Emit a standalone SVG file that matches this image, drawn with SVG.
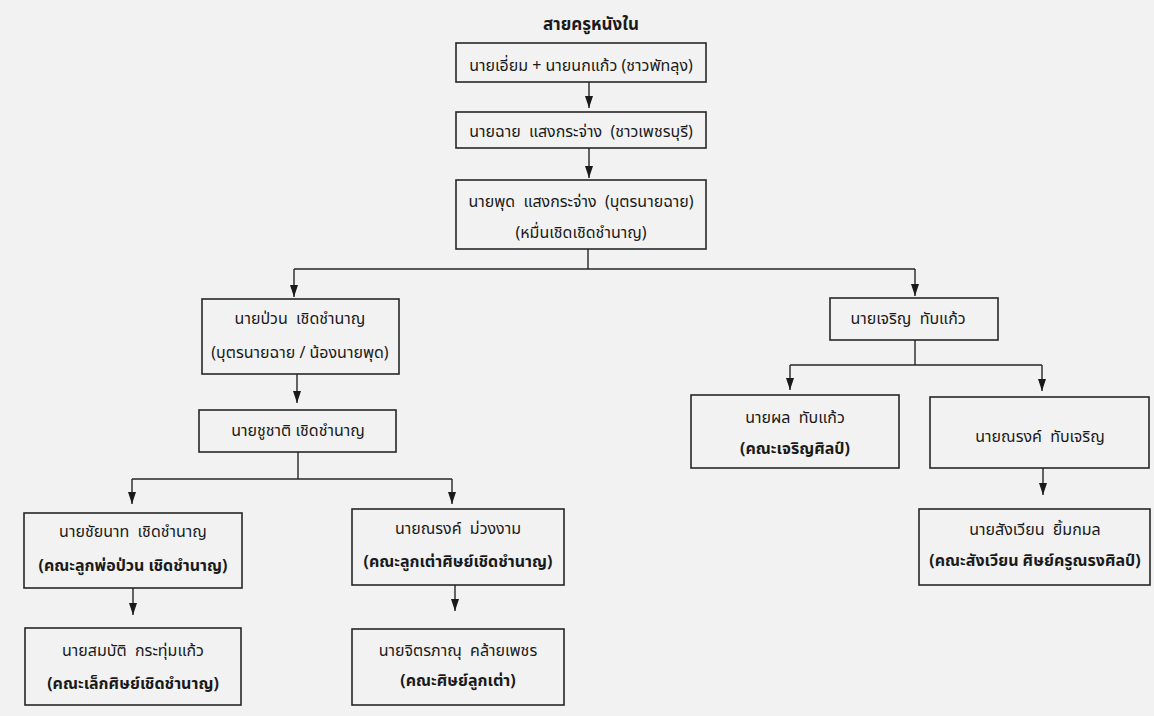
<svg xmlns="http://www.w3.org/2000/svg" width="1154" height="716" viewBox="0 0 1154 716">
<style>
  .box{fill:none;stroke:#262626;stroke-width:1.6}
  .t{font-family:"Noto Sans Thai","Liberation Sans",sans-serif;font-size:16px;fill:#1a1a1a;text-anchor:middle;white-space:pre}
  .b{font-weight:bold}
  .title{font-family:"Noto Sans Thai","Liberation Sans",sans-serif;font-size:17px;font-weight:bold;fill:#1a1a1a;text-anchor:middle}
  .c{fill:none;stroke:#262626;stroke-width:1.4}
</style>
<defs>
  <marker id="arr" viewBox="0 0 12 8" refX="12" refY="4" markerWidth="12" markerHeight="8" markerUnits="userSpaceOnUse" orient="auto">
    <path d="M0,0 L12,4 L0,8 z" fill="#1a1a1a"/>
  </marker>
</defs>
<rect x="0" y="0" width="1154" height="716" fill="#f2f2f2"/>
<text class="title" x="591" y="30">สายครูหนังใน</text>

<g id="connectors">
  <path class="c" d="M589,82 V108" marker-end="url(#arr)"/>
  <path class="c" d="M589,148 V178" marker-end="url(#arr)"/>
  <path class="c" d="M588,249 V269"/>
  <path class="c" d="M294,269 H915"/>
  <path class="c" d="M294,269 V297" marker-end="url(#arr)"/>
  <path class="c" d="M915,269 V296" marker-end="url(#arr)"/>
  <path class="c" d="M297,374 V403" marker-end="url(#arr)"/>
  <path class="c" d="M298,452 V479"/>
  <path class="c" d="M132,479 H452"/>
  <path class="c" d="M132,479 V504" marker-end="url(#arr)"/>
  <path class="c" d="M452,479 V504" marker-end="url(#arr)"/>
  <path class="c" d="M133,588 V615" marker-end="url(#arr)"/>
  <path class="c" d="M455,585 V611" marker-end="url(#arr)"/>
  <path class="c" d="M915,340 V365"/>
  <path class="c" d="M790,365 H1042"/>
  <path class="c" d="M790,365 V390" marker-end="url(#arr)"/>
  <path class="c" d="M1042,365 V391" marker-end="url(#arr)"/>
  <path class="c" d="M1043,468 V495" marker-end="url(#arr)"/>
</g>

<g id="n1">
  <rect class="box" x="456" y="43" width="250" height="39"/>
  <text class="t" x="581" y="71">นายเอี่ยม + นายนกแก้ว (ชาวพัทลุง)</text>
</g>
<g id="n2">
  <rect class="box" x="456" y="112" width="250" height="36"/>
  <text class="t" x="581" y="137">นายฉาย  แสงกระจ่าง  (ชาวเพชรบุรี)</text>
</g>
<g id="n3">
  <rect class="box" x="456" y="180" width="250" height="69"/>
  <text class="t" x="581" y="207">นายพุด  แสงกระจ่าง  (บุตรนายฉาย)</text>
  <text class="t" x="581" y="238">(หมื่นเชิดเชิดชำนาญ)</text>
</g>
<g id="n4">
  <rect class="box" x="202" y="299" width="197" height="75"/>
  <text class="t" x="300" y="324">นายป่วน  เชิดชำนาญ</text>
  <text class="t" x="300" y="358">(บุตรนายฉาย / น้องนายพุด)</text>
</g>
<g id="n5">
  <rect class="box" x="199" y="410" width="197" height="42"/>
  <text class="t" x="298" y="436">นายชูชาติ เชิดชำนาญ</text>
</g>
<g id="n6">
  <rect class="box" x="24" y="513" width="218" height="75"/>
  <text class="t" x="133" y="537">นายชัยนาท  เชิดชำนาญ</text>
  <text class="t b" x="133" y="571">(คณะลูกพ่อป่วน เชิดชำนาญ)</text>
</g>
<g id="n7">
  <rect class="box" x="25" y="628" width="216" height="77"/>
  <text class="t" x="133" y="656">นายสมบัติ  กระทุ่มแก้ว</text>
  <text class="t b" x="133" y="689">(คณะเล็กศิษย์เชิดชำนาญ)</text>
</g>
<g id="n8">
  <rect class="box" x="352" y="509" width="212" height="76"/>
  <text class="t" x="458" y="534">นายณรงค์  ม่วงงาม</text>
  <text class="t b" x="458" y="567">(คณะลูกเต่าศิษย์เชิดชำนาญ)</text>
</g>
<g id="n9">
  <rect class="box" x="352" y="629" width="212" height="76"/>
  <text class="t" x="458" y="656">นายจิตรภาณุ  คล้ายเพชร</text>
  <text class="t b" x="458" y="686">(คณะศิษย์ลูกเต่า)</text>
</g>
<g id="n10">
  <rect class="box" x="830" y="298" width="168" height="42"/>
  <text class="t" x="908" y="324">นายเจริญ  ทับแก้ว</text>
</g>
<g id="n11">
  <rect class="box" x="691" y="395" width="208" height="73"/>
  <text class="t" x="795" y="423">นายผล  ทับแก้ว</text>
  <text class="t b" x="795" y="454">(คณะเจริญศิลป์)</text>
</g>
<g id="n12">
  <rect class="box" x="930" y="397" width="219" height="71"/>
  <text class="t" x="1040" y="442">นายณรงค์  ทับเจริญ</text>
</g>
<g id="n13">
  <rect class="box" x="919" y="509" width="231" height="76"/>
  <text class="t" x="1035" y="535">นายสังเวียน  ยิ้มกมล</text>
  <text class="t b" x="1035" y="566">(คณะสังเวียน ศิษย์ครูณรงศิลป์)</text>
</g>
</svg>
